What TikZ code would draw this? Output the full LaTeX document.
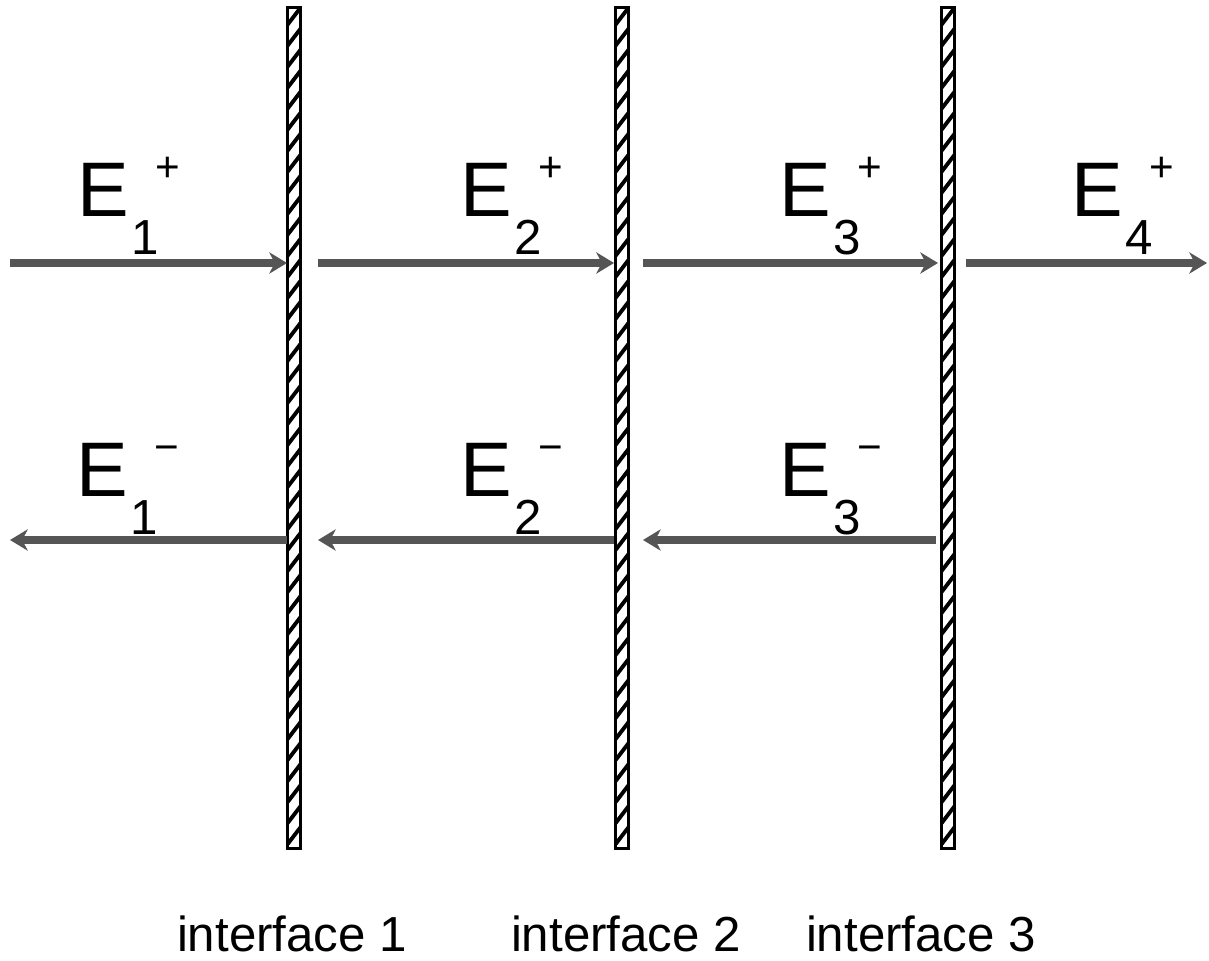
\documentclass[tikz,border=0pt]{standalone}
\usepackage{fontspec}
\setmainfont{Liberation Sans}
\usetikzlibrary{arrows.meta, positioning, calc}
\definecolor{beamgray}{RGB}{85,85,85}
% field symbol with index below and sign above
\newcommand{\fieldlbl}[2]{E\kern0.5pt\raisebox{-10.8pt}{\fontsize{14}{16}\selectfont #1}%
  \kern-0.8pt\raisebox{10pt}{\fontsize{12}{14}\selectfont #2}}

\begin{document}
\begin{tikzpicture}[x=0.01cm, y=-0.01cm,
    beam/.style={line width=2pt, beamgray, -{Stealth[length=5pt, width=6pt, inset=1.5pt]}},
    film/.style={draw, line width=0.8pt, minimum width=0.13cm, minimum height=8.4cm, inner sep=0pt,
      path picture={\foreach \k in {0,...,40}
        {\draw[line width=1.1pt] ([yshift=-\k*0.21cm]path picture bounding box.north west)
          ++(0cm,-0.17cm) -- ++(0.13cm,0.17cm);}}},
    big/.style={font=\fontsize{22}{24}\selectfont, anchor=base west, inner sep=0pt},
    tag/.style={font=\fontsize{14}{16}\selectfont, anchor=base, inner sep=0pt}]
  \useasboundingbox (0,0) rectangle (1209,961);
  % Interfaces
  \node[film] (if1) at (294,428) {};
  \node[film] (if2) at (622,428) {};
  \node[film] (if3) at (948,428) {};
  % Forward waves
  \coordinate (f1a) at (10,263);  \coordinate (f1b) at (287,263);
  \coordinate (f2a) at (318,263); \coordinate (f2b) at (614,263);
  \coordinate (f3a) at (643,263); \coordinate (f3b) at (938,263);
  \coordinate (f4a) at (966,263); \coordinate (f4b) at (1207,263);
  \draw[beam] (f1a) -- (f1b);
  \draw[beam] (f2a) -- (f2b);
  \draw[beam] (f3a) -- (f3b);
  \draw[beam] (f4a) -- (f4b);
  % Backward waves
  \coordinate (b1a) at (287,540); \coordinate (b1b) at (10,540);
  \coordinate (b2a) at (614,540); \coordinate (b2b) at (318,540);
  \coordinate (b3a) at (936,540); \coordinate (b3b) at (643,540);
  \draw[beam] (b1a) -- (b1b);
  \draw[beam] (b2a) -- (b2b);
  \draw[beam] (b3a) -- (b3b);
  % Field labels
  \node[big] (e1f) at (77,217) {\fieldlbl{1}{+}};
  \node[big] (e2f) at (460,217) {\fieldlbl{2}{+}};
  \node[big] (e3f) at (779,217) {\fieldlbl{3}{+}};
  \node[big] (e4f) at (1071,217) {\fieldlbl{4}{+}};
  \node[big] (e1b) at (76,497) {\fieldlbl{1}{−}};
  \node[big] (e2b) at (460,497) {\fieldlbl{2}{−}};
  \node[big] (e3b) at (779,497) {\fieldlbl{3}{−}};
  % Interface names
  \node[tag] (t1) at (292,951) {interface 1};
  \node[tag] (t2) at (626,951) {interface 2};
  \node[tag] (t3) at (921,951) {interface 3};
\end{tikzpicture}
\end{document}
